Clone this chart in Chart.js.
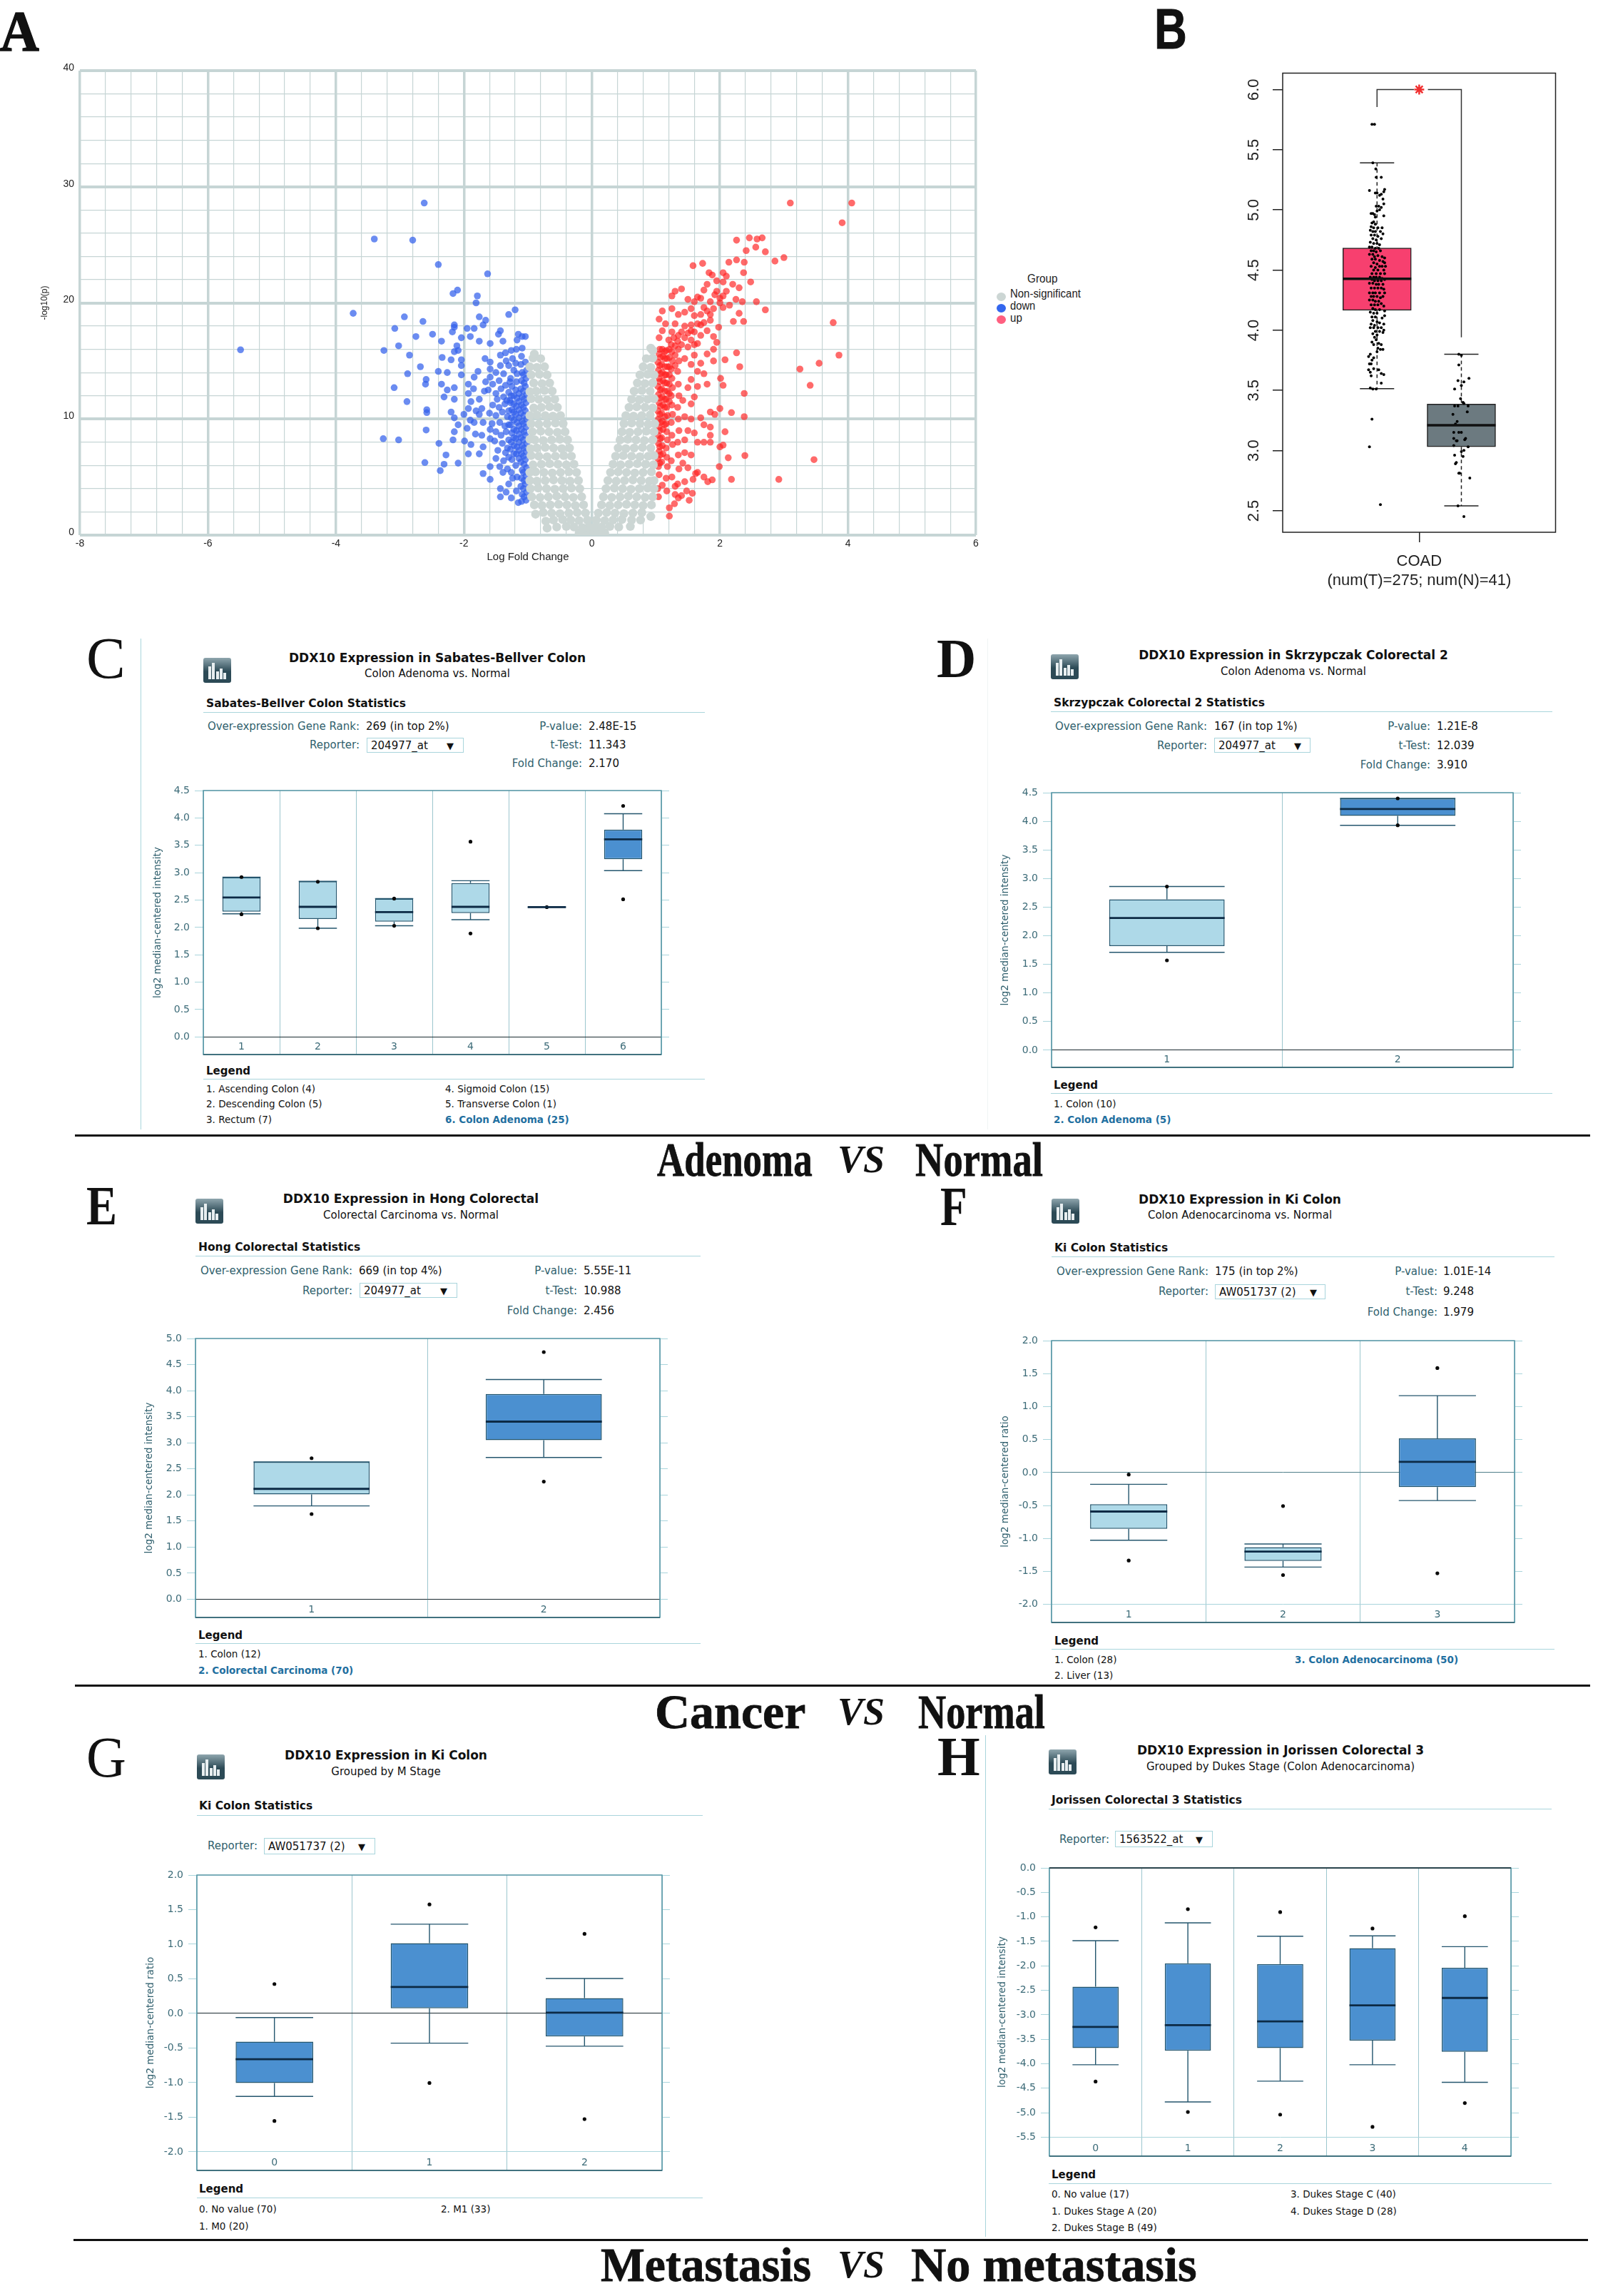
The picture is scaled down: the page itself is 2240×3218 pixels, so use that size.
<!DOCTYPE html>
<html>
<head>
<meta charset="utf-8">
<title>DDX10 expression</title>
<script src="https://cdn.jsdelivr.net/npm/chart.js@4/dist/chart.umd.js"></script>
<style>
  html, body { margin: 0; background: #fff; }
  #page { position: relative; width: 2240px; height: 3218px; overflow: hidden; background: #fff; }
  #page canvas { position: absolute; }
  .t { position: absolute; white-space: nowrap; font-family: "DejaVu Sans", sans-serif; line-height: 1; }
  .r { position: absolute; }
</style>
</head>
<body>
<div id="page"></div>
<script>
// === A: volcano as [log fold change, -log10(p)] ===
const greyPoints = [
  [-.03,.2],[-.1,.25],[-.2,.2],[-.05,.7],[-.15,.65],[-.28,.7],[-.4,.75],[-.55,.7],[-.7,.6],[-.07,1.3],[-.2,1.25],[-.33,1.3],[-.46,1.35],[-.6,1.3],[-.72,1.2],
  [-.1,1.9],[-.23,1.95],[-.36,1.9],[-.5,1.85],[-.63,1.9],[-.76,1.95],[-.88,1.8],[-.13,2.6],[-.26,2.55],[-.39,2.6],[-.52,2.65],[-.65,2.6],[-.78,2.55],[-.9,2.6],
  [-.16,3.3],[-.29,3.25],[-.42,3.3],[-.55,3.35],[-.68,3.3],[-.81,3.25],[-.94,3.3],[-.19,4],[-.32,4.05],[-.45,4],[-.58,3.95],[-.71,4],[-.84,4.05],[-.96,4],
  [-.21,4.7],[-.34,4.65],[-.47,4.7],[-.6,4.75],[-.73,4.7],[-.86,4.65],[-.97,4.7],[-.24,5.4],[-.36,5.45],[-.49,5.4],[-.62,5.35],[-.75,5.4],[-.88,5.45],[-.97,5.4],
  [-.28,6.1],[-.4,6.05],[-.53,6.1],[-.66,6.15],[-.79,6.1],[-.92,6.05],[-.32,6.8],[-.44,6.85],[-.57,6.8],[-.7,6.75],[-.83,6.8],[-.95,6.85],
  [-.35,7.5],[-.47,7.45],[-.6,7.5],[-.73,7.55],[-.86,7.5],[-.96,7.45],[-.38,8.2],[-.5,8.25],[-.63,8.2],[-.76,8.15],[-.89,8.2],[-.97,8.25],
  [-.42,8.9],[-.54,8.85],[-.67,8.9],[-.8,8.95],[-.93,8.9],[-.45,9.6],[-.57,9.65],[-.7,9.6],[-.83,9.55],[-.95,9.6],[-.49,10.3],[-.61,10.25],[-.73,10.3],[-.86,10.35],[-.97,10.3],
  [-.54,11],[-.66,11.05],[-.79,11],[-.91,10.95],[-.58,11.7],[-.7,11.65],[-.83,11.7],[-.95,11.75],[-.62,12.4],[-.74,12.45],[-.87,12.4],[-.97,12.35],
  [-.66,13.1],[-.78,13.05],[-.91,13.1],[-.7,13.8],[-.82,13.85],[-.95,13.8],[-.74,14.5],[-.86,14.45],[-.97,14.5],[-.8,15.2],[-.92,15.25],[-.9,15.6],
  [.03,.2],[.1,.25],[.2,.2],[.05,.7],[.15,.7],[.28,.75],[.42,.7],[.6,.75],[.07,1.3],[.2,1.25],[.33,1.3],[.47,1.35],[.62,1.3],[.76,1.3],[.1,1.9],[.23,1.95],[.36,1.9],[.5,1.85],[.64,1.9],[.78,1.95],[.92,1.6],
  [.15,2.6],[.28,2.55],[.41,2.6],[.54,2.65],[.67,2.6],[.8,2.55],[.93,2.6],[.18,3.3],[.31,3.25],[.44,3.3],[.57,3.35],[.7,3.3],[.83,3.25],[.95,3.3],
  [.22,4],[.35,4.05],[.48,4],[.61,3.95],[.74,4],[.87,4.05],[.97,4],[.25,4.7],[.38,4.65],[.51,4.7],[.64,4.75],[.77,4.7],[.9,4.65],[.97,4.7],
  [.29,5.4],[.41,5.45],[.54,5.4],[.67,5.35],[.8,5.4],[.93,5.45],[.33,6.1],[.45,6.05],[.58,6.1],[.71,6.15],[.84,6.1],[.96,6.05],
  [.37,6.8],[.49,6.85],[.62,6.8],[.75,6.75],[.88,6.8],[.97,6.85],[.41,7.5],[.53,7.45],[.66,7.5],[.79,7.55],[.92,7.5],[.44,8.2],[.56,8.25],[.69,8.2],[.82,8.15],[.95,8.2],
  [.47,8.9],[.59,8.85],[.72,8.9],[.85,8.95],[.97,8.9],[.5,9.6],[.62,9.65],[.75,9.6],[.88,9.55],[.98,9.6],[.53,10.3],[.65,10.25],[.78,10.3],[.91,10.35],
  [.58,11],[.7,11.05],[.83,11],[.95,10.95],[.62,11.7],[.74,11.65],[.87,11.7],[.97,11.75],[.66,12.4],[.78,12.45],[.91,12.4],[.71,13.1],[.83,13.05],[.95,13.1],
  [.75,13.8],[.87,13.85],[.97,13.8],[.8,14.5],[.92,14.45],[.85,15.2],[.95,15.25],[.95,15.9],[.92,16.1]
];
const downPoints = [
  [-5.49,15.96],[-2.62,28.6],[-3.4,25.5],[-2.8,25.4],[-2.4,23.3],[-1.63,22.5],[-2.17,20.8],[-2.1,21.1],[-1.79,20.6],[-1.81,20],[-3.73,19.1],[-2.93,18.8],[-2.64,18.4],[-3.08,17.8],[-2.75,17.1],[-2.49,17.3],
  [-3.02,16.3],[-3.25,15.9],[-2.85,15.5],[-2.68,14.5],[-2.88,13.9],[-2.59,13.4],[-2.6,13],[-3.09,12.7],[-2.89,11.5],[-2.58,10.8],[-2.58,10.55],[-2.59,9.05],[-3.26,8.3],[-3.02,8.2],[-2.61,6.25],[-2.39,7.9],[-2.37,5.55],
  [-1.2,19.4],[-1.3,19],[-1.15,17.3],[-1.09,17.1],[-1.04,17.1],[-1.17,16.8],[-1.43,17.6],[-1.46,17.3],[-1.39,16.7],[-1.59,16.5],[-1.76,16.7],[-1.7,18.1],[-1.66,18.5],[-1.76,18.8],[-1.84,17.8],[-1.9,17.1],[-2.04,17],[-1.95,17.8],
  [-2.18,17.5],[-2.15,17.9],[-2.15,18.1],[-2.35,16.7],[-2.11,16.3],[-2.09,15.9],[-2.15,15.8],[-2.34,15.3],[-2.2,15.1],[-2.04,15.1],[-2.04,14.6],[-2.4,14.1],[-2.26,14],[-2.04,13.8],[-1.84,13.6],[-1.67,15.2],[-1.59,14.9],[-1.59,14.3],[-1.59,13.6],
  [-1.43,14.6],[-1.35,15.7],[-1.26,15.9],[-1.43,15.5],[-1.93,13],[-2.15,12.7],[-2.35,13],[-2.26,12.5],[-2.31,11.9],[-2.15,11.7],[-1.93,12.2],[-1.89,11.5],[-1.76,11.7],[-1.93,10.9],[-1.81,10.7],[-1.76,10.4],[-2.2,10.6],[-2.15,10.1],[-2.09,9.5],
  [-2.15,8.9],[-2.17,8.2],[-1.99,8.1],[-1.84,9.7],[-1.7,9.7],[-1.59,9.1],[-1.59,8.3],[-1.89,7.8],[-1.7,7.6],[-1.93,7],[-1.76,7],[-2.09,6.2],[-2.28,6.9],[-2.31,6.1],[-1.59,5.9],[-1.7,5.3],[-1.59,4.8],[-1.43,4],[-1.43,3.3],[-1.26,3.2],[-1.39,5.4],[-1.24,4.9],[-1.15,2.8],
  [-1.66,13.2],[-1.55,13],[-1.45,13.3],[-1.38,13.9],[-1.62,12.5],[-1.5,12.2],[-1.42,12.6],[-1.35,12.9],[-1.48,11.7],[-1.38,11.9],[-1.3,12.3],[-1.55,11.2],[-1.45,11],[-1.36,11.3],[-1.28,11.6],[-1.6,10.5],[-1.5,10.3],[-1.4,10.6],[-1.32,10.2],
  [-1.56,9.6],[-1.44,9.7],[-1.36,9.4],[-1.5,8.9],[-1.42,8.6],[-1.34,8.9],[-1.52,8.1],[-1.4,7.9],[-1.3,8.2],[-1.47,7.3],[-1.35,7.1],[-1.5,6.6],[-1.38,6.4],[-1.3,6.7],[-1.44,5.9],[-1.32,5.7],[-1.3,4.4],[-1.34,3.7],[-1.22,14.2],[-1.3,14.6],[-1.24,15.2],[-1.34,15],
  [-1.5,14],[-1.78,14.1],[-1.85,12.6],[-1.68,12.4],[-1.72,10.9],[-1.9,9.9],[-1.95,9.2],[-1.82,8.7],[-1.72,8.6],[-2,10.4],
  [-1.03,3],[-1.02,3.7],[-1.04,4.4],[-1.03,5.1],[-1.02,5.8],[-1.04,6.5],[-1.03,7.2],[-1.02,7.9],[-1.04,8.6],[-1.03,9.3],[-1.02,10],[-1.04,10.7],[-1.03,11.4],[-1.02,12.1],[-1.04,12.8],[-1.03,13.5],[-1.02,14.2],[-1.04,14.9],
  [-1.1,2.9],[-1.09,3.5],[-1.11,4.2],[-1.1,4.9],[-1.09,5.6],[-1.11,6.3],[-1.1,7],[-1.09,7.7],[-1.11,8.4],[-1.1,9.1],[-1.09,9.8],[-1.11,10.5],[-1.1,11.2],[-1.09,11.9],[-1.11,12.6],[-1.1,13.3],[-1.09,14],[-1.11,14.7],[-1.1,15.4],[-1.09,16.1],
  [-1.18,3.8],[-1.17,5],[-1.19,6],[-1.18,7],[-1.17,7.6],[-1.19,8.3],[-1.18,9],[-1.17,9.7],[-1.19,10.4],[-1.18,11.1],[-1.17,11.8],[-1.19,12.5],[-1.18,13.2],[-1.17,13.9],[-1.19,14.8],[-1.18,16],
  [-1.26,5.4],[-1.25,6.5],[-1.27,7.4],[-1.26,8],[-1.25,8.8],[-1.27,9.5],[-1.26,10.1],[-1.25,10.8],[-1.27,11.4],[-1.26,12],[-1.25,12.8],[-1.27,13.5],
  [-1.06,3.3],[-1.07,4],[-1.06,4.7],[-1.07,5.4],[-1.06,6.1],[-1.07,6.8],[-1.06,7.5],[-1.07,8.2],[-1.06,8.9],[-1.07,9.6],[-1.06,10.3],[-1.07,11],[-1.06,11.7],[-1.07,12.4],[-1.06,13.1],[-1.07,13.8],
  [-1.14,6.6],[-1.14,7.3],[-1.14,8],[-1.14,8.7],[-1.14,9.4],[-1.14,10.1],[-1.14,10.8],[-1.14,11.5],[-1.14,12.2],[-1.22,7],[-1.22,7.7],[-1.22,8.4],[-1.22,9.1],[-1.22,9.9],[-1.22,10.6],[-1.22,11.3],[-1.22,12],[-1.3,9.5],[-1.3,10.7],[-1.33,11.6],[-1.28,13.2],[-1.32,7.5]
];
const upPoints = [
  [3.1,28.6],[4.06,28.6],[3.91,26.9],[3.77,18.3],[3.86,15.5],[3.55,14.8],[3.25,14.3],[3.41,12.9],[3.47,6.5],[2.92,4.8],[2.71,19.4],[2.57,20.1],[2.37,18.4],[2.21,18.4],[2.48,21.8],[2.37,22.6],[2.86,23.6],[3,23.9],[2.71,24.4],[2.56,24.8],[2.41,24.5],
  [2.66,25.6],[2.58,25.5],[2.46,25.6],[2.26,25.4],[2.26,23.7],[2.14,23.5],[2.38,23.5],[1.58,23.2],[1.73,23.4],[1.83,22.6],[1.88,22.4],[2.26,15.7],[2.08,15.1],[2.31,14.5],[2.01,13.5],[2.05,12.9],[2.38,12.2],[2,10.9],[2.18,10.55],[2.38,10.2],
  [2.08,8.9],[2,7.6],[2.05,7.75],[2.39,6.85],[2.13,6.66],[1.99,5.9],[2.18,4.8],[1.88,4.76],[1.81,4.6],[1.21,1.64],[1.21,2.35],[1.29,2.7],
  [1.04,3.3],[1.03,4],[1.05,5.2],[1.04,5.9],[1.03,6.6],[1.05,7.2],[1.04,7.9],[1.03,8.6],[1.05,9.3],[1.04,10],[1.03,10.7],[1.05,11.4],[1.04,12.1],[1.03,12.8],[1.05,13.5],[1.04,14.2],[1.03,14.9],[1.05,15.6],
  [1.1,4.3],[1.09,6.3],[1.11,7],[1.1,7.7],[1.09,8.4],[1.11,9.1],[1.1,9.8],[1.09,10.5],[1.11,11.2],[1.1,11.9],[1.09,12.6],[1.11,13.3],[1.1,14],[1.09,14.7],[1.11,15.4],[1.1,16],
  [1.17,3.8],[1.16,4.9],[1.18,5.9],[1.17,6.7],[1.16,7.5],[1.18,8.2],[1.17,8.9],[1.16,9.6],[1.18,10.3],[1.17,11],[1.16,11.7],[1.18,12.4],[1.17,13.1],[1.16,13.8],[1.18,14.5],[1.17,15.2],[1.16,15.9],
  [1.25,5],[1.24,6.4],[1.26,7.8],[1.25,8.6],[1.24,9.7],[1.26,10.4],[1.25,11.2],[1.24,12],[1.26,12.7],[1.25,13.5],[1.24,14.3],[1.26,15],[1.25,15.8],[1.24,16.4],
  [1.35,3.2],[1.34,4.4],[1.36,5.7],[1.35,6.9],[1.34,8],[1.36,9],[1.35,10],[1.34,11],[1.36,12],[1.35,13],[1.34,14.1],[1.36,15],[1.35,16],[1.34,16.7],
  [1.05,17],[1.1,17.6],[1.15,18.2],[1.05,18.6],[1.1,19.3],[1.2,16.8],[1.25,17.5],[1.3,18.2],[1.35,17.2],[1.4,16.4],[1.45,17],[1.45,18],[1.5,16.2],[1.5,17.4],[1.55,16.8],[1.55,18.1],[1.6,17.5],[1.6,18.9],[1.65,16.5],[1.65,18.2],[1.7,17.2],[1.7,19],
  [1.75,18.3],[1.75,19.6],[1.8,17.6],[1.8,19.3],[1.85,20.1],[1.85,18.5],[1.9,17.1],[1.9,19.5],[1.55,19.5],[1.6,20.1],[1.65,20.5],[1.5,20.3],[1.45,19.2],[1.35,19],[1.25,19.5],[1.4,21.2],[1.25,20.6],[1.3,21],[1.7,20.4],[1.75,21.1],[1.8,21.6],
  [1.95,21],[2,20.4],[2.05,20.6],[2.1,21],[2.05,21.8],[1.95,21.9],[2.05,19.6],[1.98,17.9],[1.95,16.6],[1.9,16],[2.15,19.8],[2.25,20.3],[2.35,20.1],[2.3,19.1],[2.1,22.3],[2.05,22.6],[2,20],[1.92,20.7],[2.2,21.6],[2.3,21.3],
  [1.45,15.2],[1.55,14.7],[1.6,15.5],[1.7,14.8],[1.8,15.6],[1.9,15],[1.75,13.9],[1.65,14.1],[1.55,13.4],[1.5,12.7],[1.65,12.8],[1.8,13],[1.42,11.6],[1.55,11.3],[1.6,11.9],[1.45,10.2],[1.55,10],[1.7,10.1],[1.85,10.6],[1.92,10.4],[1.75,9.5],[1.85,9.3],
  [1.5,9],[1.6,8.8],[1.85,8.6],[1.45,8.2],[1.65,8],[1.75,8],[1.85,8],[1.45,7.1],[1.55,6.9],[1.42,6.2],[1.5,5.8],[1.62,5.3],[1.58,4.8],[1.45,4.6],[1.65,5.4],[1.4,3.4],[1.48,3.8],[1.57,3.6],[1.52,3],[1.3,3.5],[1.3,4.2],[1.75,5],
  [1.06,6.2],[1.07,6.9],[1.06,7.6],[1.07,8.3],[1.06,9],[1.07,9.7],[1.06,10.4],[1.07,11.1],[1.06,11.8],[1.07,12.5],[1.06,13.2],[1.07,13.9],[1.06,14.6],[1.07,15.3],[1.06,16],
  [1.14,9.5],[1.14,10.2],[1.14,11],[1.14,11.7],[1.14,12.4],[1.14,13.1],[1.14,13.8],[1.14,14.5],[1.14,15.2],[1.14,15.8],[1.21,11.5],[1.21,12.2],[1.21,13],[1.21,13.8],[1.21,14.5],[1.21,15.3],[1.21,16],[1.3,14.6],[1.3,15.5],[1.3,16.3],[1.28,17],[1.4,17.5],[1.55,17.6],[1.6,16.4],[1.7,18.1],[1.85,19]
];

// === B: GEPIA style box plot ===
const bTicks = [2.5, 3, 3.5, 4, 4.5, 5, 5.5, 6];
const bCats = [1, 2];
const bQ1 = [4.165, 3.03];
const bMedian = [4.427, 3.21];
const bQ3 = [4.683, 3.385];
const bLow = [3.514, 2.54];
const bHigh = [5.39, 3.8];
const bracketLeftX = [1, 1, 1.437];
const bracketLeftY = [5.855, 6, 6];
const bracketRightX = [1.603, 2, 2];
const bracketRightY = [6, 6, 3.94];
const tumorPoints = [
  [.94,5.71],[.97,5.71],[.95,5.39],[.985,5.34],[.99,5.27],[1.05,5.27],[.91,5.16],[.98,5.14],[1,5.14],[1.05,5.13],[1.09,5.17],[1.08,5.15],[1.03,5.12],[1.07,5.09],[1.08,5.05],[.99,5.03],[1.02,5.03],[1.05,5.02],[1.03,5],[1,4.99],
  [.93,4.97],[.95,4.97],[.97,4.96],[1.08,4.95],[.98,4.94],[.96,4.9],[.94,4.89],[.98,4.88],[.93,4.86],[.96,4.85],[1.01,4.85],[1.06,4.85],[.92,4.83],[.95,4.82],[.98,4.82],[1.04,4.82],[1.07,4.8],[.93,4.79],[.97,4.79],[1.01,4.78],
  [.95,4.76],[.99,4.75],[1.05,4.76],[.92,4.73],[.96,4.72],[1,4.72],[1.03,4.71],[.91,4.69],[.94,4.69],[.98,4.68],[1.02,4.68],[.93,4.66],[.96,4.66],[.99,4.65],[1.04,4.66],[.91,4.63],[.95,4.63],[.97,4.61],[1.01,4.62],[1.06,4.61],
  [1.09,4.6],[.94,4.59],[.98,4.59],[1.03,4.58],[1.07,4.57],[.96,4.56],[1,4.55],[1.09,4.56],[.93,4.53],[.98,4.52],[1.03,4.53],[1.06,4.53],[1.1,4.53],[.96,4.5],[1.01,4.5],[1.08,4.5],[.94,4.47],[.99,4.47],[1.04,4.47],[1.09,4.47],
  [.92,4.44],[.96,4.44],[.99,4.44],[1.03,4.44],[1.06,4.43],[.94,4.42],[.97,4.41],[1.01,4.41],[1.05,4.41],[1.09,4.42],[.91,4.39],[.95,4.39],[.99,4.38],[1.02,4.38],[1.07,4.38],[.93,4.35],[.97,4.35],[1.01,4.35],[1.05,4.35],[1.08,4.34],
  [.91,4.31],[.95,4.31],[.98,4.31],[1.03,4.31],[1.09,4.31],[.93,4.28],[.96,4.28],[1,4.28],[1.04,4.27],[1.07,4.28],[.91,4.25],[.95,4.25],[.98,4.24],[1.02,4.24],[.93,4.21],[.97,4.21],[1.01,4.21],[1.05,4.22],[1.08,4.2],[.95,4.18],
  [.98,4.17],[1.03,4.17],[1.09,4.16],[.92,4.15],[.96,4.14],[1,4.14],[.94,4.11],[.98,4.11],[1.09,4.12],[1.06,4.1],[.95,4.08],[1,4.07],[1.03,4.06],[.93,4.05],[.97,4.04],[1.08,4.05],[.92,4.02],[.96,4.02],[1.01,4.02],[1.05,4.02],
  [1.08,4],[.98,3.99],[1.03,3.99],[1.07,3.98],[.95,3.97],[1,3.96],[.97,3.94],[.99,3.92],[.94,3.9],[.96,3.88],[1.02,3.89],[1.05,3.88],[1.01,3.85],[1.04,3.84],[1.07,3.84],[1,3.82],[.92,3.8],[.9,3.78],[.96,3.77],[.94,3.75],
  [.91,3.72],[.93,3.72],[.9,3.67],[.92,3.65],[.96,3.68],[1.02,3.67],[1.05,3.64],[1.08,3.63],[.93,3.62],[1.05,3.56],[.92,3.52],[.95,3.51],[.99,3.51],[.94,3.26],[.91,3.03],[1.04,2.55]
];
const normalPoints = [
  [1.97,3.8],[2,3.79],[1.97,3.71],[2.09,3.6],[1.96,3.58],[2.03,3.57],[2,3.54],[1.92,3.51],[1.99,3.43],[2.02,3.4],[1.92,3.37],[1.96,3.37],[2.03,3.39],[2.08,3.37],[2.07,3.32],[1.9,3.3],[1.95,3.24],[1.93,3.22],
  [1.91,3.15],[1.97,3.15],[2,3.15],[1.91,3.1],[1.94,3.08],[1.95,3.08],[2.05,3.1],[2.04,3.09],[1.91,3.04],[2.08,3.03],[2.03,3],[2,2.99],[1.92,2.96],[2.02,2.95],[1.94,2.9],[1.93,2.89],[1.98,2.81],[1.97,2.81],[2.1,2.77],[1.96,2.54],[2.03,2.45]
];

// === C-H: Oncomine box plots ===
const cCats = ["1", "2", "3", "4", "5", "6"];
const cTicks = [0, .5, 1, 1.5, 2, 2.5, 3, 3.5, 4, 4.5];
const cLow = [2.25, 1.985, 2.03, 2.142, 2.37, 3.037];
const cQ1 = [2.287, 2.155, 2.105, 2.262, 2.37, 3.245];
const cMedian = [2.546, 2.376, 2.281, 2.376, 2.37, 3.61];
const cQ3 = [2.917, 2.842, 2.527, 2.81, 2.37, 3.787];
const cHigh = [2.917, 2.842, 2.527, 2.854, 2.37, 4.077];
const cOutCats = ["1", "1", "2", "2", "3", "3", "4", "4", "5", "6", "6"];
const cOutVals = [2.92, 2.24, 2.835, 1.985, 2.527, 2.03, 3.566, 1.89, 2.37, 4.22, 2.514];

const dCats = ["1", "2"];
const dTicks = [0, .5, 1, 1.5, 2, 2.5, 3, 3.5, 4, 4.5];
const dLow = [1.71, 3.93];
const dQ1 = [1.82, 4.095];
const dMedian = [2.31, 4.216];
const dQ3 = [2.636, 4.4];
const dHigh = [2.86, 4.4];
const dOutCats = ["1", "1", "2", "2"];
const dOutVals = [2.86, 1.57, 4.4, 3.93];

const eCats = ["1", "2"];
const eTicks = [0, .5, 1, 1.5, 2, 2.5, 3, 3.5, 4, 4.5, 5];
const eLow = [1.79, 2.718];
const eQ1 = [2.01, 3.05];
const eMedian = [2.116, 3.406];
const eQ3 = [2.632, 3.935];
const eHigh = [2.632, 4.213];
const eOutCats = ["1", "1", "2", "2"];
const eOutVals = [2.705, 1.634, 4.74, 2.255];

const fCats = ["1", "2", "3"];
const fTicks = [-2, -1.5, -1, -.5, 0, .5, 1, 1.5, 2];
const fLow = [-1.025, -1.433, -.424];
const fQ1 = [-.852, -1.339, -.22];
const fMedian = [-.59, -1.197, .162];
const fQ3 = [-.48, -1.13, .518];
const fHigh = [-.178, -1.082, 1.166];
const fOutCats = ["1", "1", "2", "2", "3", "3"];
const fOutVals = [-.03, -1.333, -.507, -1.553, 1.584, -1.527];

const gCats = ["0", "1", "2"];
const gTicks = [-2, -1.5, -1, -.5, 0, .5, 1, 1.5, 2];
const gLow = [-1.199, -.43, -.473];
const gQ1 = [-1.005, .075, -.333];
const gMedian = [-.661, .382, .011];
const gQ3 = [-.409, 1.016, .22];
const gHigh = [-.059, 1.29, .505];
const gOutCats = ["0", "0", "1", "1", "2", "2"];
const gOutVals = [.425, -1.554, 1.575, -1.005, 1.15, -1.527];

const hCats = ["0", "1", "2", "3", "4"];
const hTicks = [-5.5, -5, -4.5, -4, -3.5, -3, -2.5, -2, -1.5, -1, -.5, 0];
const hLow = [-4.02, -4.78, -4.355, -4.02, -4.378];
const hQ1 = [-3.68, -3.733, -3.68, -3.528, -3.756];
const hMedian = [-3.247, -3.21, -3.134, -2.807, -2.656];
const hQ3 = [-2.428, -1.95, -1.965, -1.639, -2.041];
const hHigh = [-1.487, -1.123, -1.396, -1.388, -1.608];
const hOutCats = ["0", "0", "1", "1", "2", "2", "3", "3", "4", "4"];
const hOutVals = [-1.214, -4.363, -.842, -4.985, -.903, -5.038, -1.237, -5.288, -.986, -4.803];

const page = document.getElementById("page");

function put(str, x, y, o = {}) {
  const d = document.createElement("div");
  d.className = "t";
  d.textContent = str;
  d.style.left = `${x}px`;
  d.style.top = `${y}px`;
  d.style.fontSize = `${o.size || 15}px`;
  d.style.color = o.color || "#111";
  if (o.bold) d.style.fontWeight = "bold";
  if (o.italic) d.style.fontStyle = "italic";
  if (o.font) d.style.fontFamily = o.font;
  if (o.stroke) d.style.webkitTextStroke = `${o.stroke}px ${o.color || "#111"}`;
  const ax = o.align === "r" ? -100 : o.align === "c" ? -50 : 0;
  d.style.transform = `translate(${ax}%, -50%)`;
  page.appendChild(d);
  if (o.w) {
    d.style.transformOrigin = "0 50%";
    d.style.transform = `translateY(-50%) scaleX(${o.w / d.offsetWidth})`;
  }
  return d;
}

function rect(x, y, w, h, color) {
  const d = document.createElement("div");
  d.className = "r";
  d.style.cssText = `left:${x}px;top:${y}px;width:${w}px;height:${h}px;background:${color}`;
  page.appendChild(d);
  return d;
}

function addCanvas(x, y, w, h) {
  const c = document.createElement("canvas");
  c.width = w;
  c.height = h;
  c.style.left = `${x}px`;
  c.style.top = `${y}px`;
  page.appendChild(c);
  return c;
}

const pairs = list => list.map(p => ({ x: p[0], y: p[1] }));
const zip = (xs, ys) => xs.map((x, i) => ({ x, y: ys[i] }));

// keep the plot area where it was measured, labels may hang over
function fixSize(s, w, h) {
  if (w !== null) s.width = w;
  if (h !== null) s.height = h;
  s.paddingTop = 0;
  s.paddingBottom = 0;
  s.paddingLeft = 0;
  s.paddingRight = 0;
}

// whiskers, caps and medians go through the chart's own scales
function boxMarks(cfg) {
  return {
    id: "boxMarks",
    beforeDatasetsDraw(chart) {
      const { ctx, scales: { x, y } } = chart;
      ctx.save();
      ctx.strokeStyle = cfg.whisker;
      ctx.lineWidth = cfg.whiskerWidth;
      cfg.q1.forEach((q, i) => {
        const px = x.getPixelForValue(cfg.pos[i]);
        const half = cfg.capHalf(x);
        ctx.setLineDash(cfg.dash || []);
        ctx.beginPath();
        ctx.moveTo(px, y.getPixelForValue(cfg.high[i]));
        ctx.lineTo(px, y.getPixelForValue(cfg.q3[i]));
        ctx.moveTo(px, y.getPixelForValue(q));
        ctx.lineTo(px, y.getPixelForValue(cfg.low[i]));
        ctx.stroke();
        ctx.setLineDash([]);
        ctx.beginPath();
        [cfg.high[i], cfg.low[i]].forEach(v => {
          ctx.moveTo(px - half, y.getPixelForValue(v));
          ctx.lineTo(px + half, y.getPixelForValue(v));
        });
        ctx.stroke();
      });
      ctx.restore();
    },
    afterDatasetsDraw(chart) {
      const { ctx, scales: { x, y } } = chart;
      ctx.save();
      ctx.strokeStyle = cfg.medianColor;
      ctx.lineWidth = cfg.medianWidth;
      cfg.median.forEach((m, i) => {
        const px = x.getPixelForValue(cfg.pos[i]);
        const half = cfg.boxHalf(x);
        ctx.beginPath();
        ctx.moveTo(px - half, y.getPixelForValue(m));
        ctx.lineTo(px + half, y.getPixelForValue(m));
        ctx.stroke();
      });
      ctx.restore();
    }
  };
}

const frameLine = {
  id: "frameLine",
  beforeDatasetsDraw(chart) {
    const { ctx, chartArea: a } = chart;
    const o = chart.options.plugins.frameLine;
    ctx.save();
    ctx.strokeStyle = o.color;
    ctx.lineWidth = o.width;
    ctx.strokeRect(a.left, a.top, a.right - a.left, a.bottom - a.top);
    if (o.bottomColor) {
      ctx.strokeStyle = o.bottomColor;
      ctx.beginPath();
      ctx.moveTo(a.left, a.bottom);
      ctx.lineTo(a.right, a.bottom);
      ctx.stroke();
    }
    if (o.topColor) {
      ctx.strokeStyle = o.topColor;
      ctx.beginPath();
      ctx.moveTo(a.left, a.top);
      ctx.lineTo(a.right, a.top);
      ctx.stroke();
    }
    ctx.restore();
  }
};

// === PANEL A ===
function drawVolcano() {
  const L = 112, R = 1368, T = 99, B = 750;
  const leftW = 57, rightW = 8, topPad = 10, botH = 40;
  const canvas = addCanvas(L - leftW, T - topPad, leftW + (R - L) + rightW, topPad + (B - T) + botH);
  const isMajor = (v, n) => Math.abs(Math.round(v / n) * n - v) < 1e-6;
  new Chart(canvas, {
    type: "scatter",
    data: {
      datasets: [
        { label: "Non-significant", data: pairs(greyPoints), backgroundColor: "#ccd6d4", pointRadius: 6.2, borderWidth: 0 },
        { label: "down", data: pairs(downPoints), backgroundColor: "rgba(50,95,235,0.72)", pointRadius: 4.8, borderWidth: 0 },
        { label: "up", data: pairs(upPoints), backgroundColor: "rgba(255,35,35,0.68)", pointRadius: 4.8, borderWidth: 0 }
      ]
    },
    options: {
      responsive: false,
      animation: false,
      layout: { padding: { top: topPad, right: rightW } },
      plugins: { legend: { display: false }, tooltip: { enabled: false } },
      scales: {
        x: {
          type: "linear", min: -8, max: 6,
          afterFit: s => fixSize(s, null, botH),
          ticks: {
            stepSize: .4, autoSkip: false, maxRotation: 0, padding: 4, color: "#222",
            font: { family: "Liberation Sans", size: 14 },
            callback: v => (isMajor(v, 2) ? Math.round(v) : "")
          },
          grid: {
            drawTicks: false,
            color: "#c6d5d5",
            lineWidth: c => (isMajor(c.tick.value, 2) ? 3.5 : 1.2)
          },
          border: { display: false },
          title: { display: true, text: "Log Fold Change", color: "#222", padding: 0, font: { family: "Liberation Sans", size: 15 } }
        },
        y: {
          type: "linear", min: 0, max: 40,
          afterFit: s => fixSize(s, leftW, null),
          ticks: {
            stepSize: 2, autoSkip: false, padding: 8, labelOffset: -4, color: "#222",
            font: { family: "Liberation Sans", size: 14 },
            callback: v => (isMajor(v, 10) ? Math.round(v) : "")
          },
          grid: {
            drawTicks: false,
            color: "#c6d5d5",
            lineWidth: c => (isMajor(c.tick.value, 10) ? 4 : 1.2)
          },
          border: { display: false },
          title: { display: true, text: "-log10(p)", color: "#222", padding: 0, font: { family: "Liberation Sans", size: 12 } }
        }
      }
    }
  });
  put("Group", 1440, 391, { font: "Liberation Sans", size: 16, color: "#222", w: 42 });
  [["Non-significant", 412, 99, "#ccd6d4", 416], ["down", 429, 35, "#3366ee", 432], ["up", 446, 17, "#ff5f80", 448]].forEach(([txt, y, w, col, dotY]) => {
    put(txt, 1416, y, { font: "Liberation Sans", size: 16, color: "#222", w });
    const dot = rect(1397, dotY - 6, 13, 12, col);
    dot.style.borderRadius = "50%";
  });
}

// === PANEL B ===
function drawGepia() {
  const L = 1798, R = 2184, T = 99, B = 746;
  const leftW = 60, rightW = 6, topPad = 6, botH = 80;
  const canvas = addCanvas(L - leftW, T - topPad, leftW + (R - L) + rightW, topPad + (B - T) + botH);
  const fills = ["#f7406f", "#6c7a80"];
  new Chart(canvas, {
    type: "bar",
    data: {
      datasets: [
        { type: "bar", data: bCats.map((c, i) => ({ x: c, y: [bQ1[i], bQ3[i]] })), backgroundColor: fills, borderColor: "#222", borderWidth: 1.5, borderSkipped: false, barThickness: 96, order: 3 },
        { type: "scatter", data: pairs(tumorPoints), backgroundColor: "#000", pointRadius: 2, borderWidth: 0, order: 1 },
        { type: "scatter", data: pairs(normalPoints), backgroundColor: "#000", pointRadius: 2, borderWidth: 0, order: 1 },
        { type: "line", data: zip(bracketLeftX, bracketLeftY), borderColor: "#333", borderWidth: 1.5, pointRadius: 0, fill: false, order: 2 },
        { type: "line", data: zip(bracketRightX, bracketRightY), borderColor: "#333", borderWidth: 1.5, pointRadius: 0, fill: false, order: 2 },
        { type: "scatter", data: [{ x: 1.5, y: 6 }], pointStyle: "star", pointRadius: 7, borderColor: "#f03030", borderWidth: 2.5, order: 1 }
      ]
    },
    options: {
      responsive: false,
      animation: false,
      layout: { padding: { top: topPad, right: rightW } },
      plugins: { legend: { display: false }, tooltip: { enabled: false }, frameLine: { color: "#222", width: 1.5 } },
      scales: {
        x: {
          type: "linear", min: -.119, max: 3.117, offset: false,
          afterFit: s => fixSize(s, null, botH),
          afterBuildTicks: s => { s.ticks = [{ value: 1.5 }]; },
          ticks: {
            color: "#222", padding: 14, maxRotation: 0,
            font: { family: "Liberation Sans", size: 22, lineHeight: 1.22 },
            callback: () => ["COAD", "(num(T)=275; num(N)=41)"]
          },
          grid: { offset: false, drawOnChartArea: false, tickLength: 14, color: "#222", lineWidth: 1.5 },
          border: { display: false }
        },
        y: {
          type: "linear", min: 2.32, max: 6.136,
          afterFit: s => fixSize(s, leftW, null),
          afterBuildTicks: s => { s.ticks = bTicks.map(value => ({ value })); },
          ticks: {
            color: "#222", padding: 26, minRotation: 90, maxRotation: 90, labelOffset: -15,
            font: { family: "Liberation Sans", size: 22 },
            callback: v => v.toFixed(1)
          },
          grid: { drawOnChartArea: false, tickLength: 14, color: "#222", lineWidth: 1.5 },
          border: { display: false }
        }
      }
    },
    plugins: [frameLine, boxMarks({
      pos: bCats, low: bLow, q1: bQ1, median: bMedian, q3: bQ3, high: bHigh,
      whisker: "#222", whiskerWidth: 1.5, dash: [5, 4], medianColor: "#111", medianWidth: 3.5,
      capHalf: () => 24, boxHalf: () => 48
    })]
  });
}

// === PANELS C-H ===
const LIGHT = "#aed9e8", DARK = "#4b90d0", TICKC = "#3c6b78", TXT2 = "#2f5f6d", BLUE = "#1f6fa0", LINE = "#a9d5dc";

function drawBoxPanel(p) {
  const leftW = Math.round(p.L - p.titleX + 9), rightW = 16, topPad = 10, botH = 3;
  const canvas = addCanvas(p.L - leftW, p.T - topPad, leftW + (p.R - p.L) + rightW, topPad + (p.B - p.T) + botH);
  const darkSet = p.dark;
  const zero = p.zeroColor || "#1a2a30";
  const grid = c => (c.tick.value === 0 ? zero : c.tick.value === p.ticks[0] ? LINE : "rgba(0,0,0,0)");
  new Chart(canvas, {
    type: "bar",
    data: {
      labels: p.cats,
      datasets: [
        {
          type: "bar",
          data: p.cats.map((c, i) => [p.q1[i], p.q3[i]]),
          backgroundColor: p.cats.map((c, i) => (darkSet.includes(i) ? DARK : LIGHT)),
          borderColor: "#24566e", borderWidth: 1.5, borderSkipped: false,
          barPercentage: .5, categoryPercentage: 1, order: 2
        },
        {
          type: "scatter",
          data: zip(p.outCats, p.outVals),
          backgroundColor: "#0a0a0a", pointRadius: 2.6, borderWidth: 0, order: 1
        }
      ]
    },
    options: {
      responsive: false,
      animation: false,
      layout: { padding: { top: topPad, right: 0 } },
      plugins: {
        legend: { display: false },
        tooltip: { enabled: false },
        frameLine: { color: "#4f93a3", width: 1.5, bottomColor: "#2f5f6d", topColor: p.topColor }
      },
      scales: {
        x: {
          type: "category", offset: true,
          afterFit: s => fixSize(s, null, botH),
          ticks: { color: TICKC, mirror: true, padding: 2, autoSkip: false, maxRotation: 0, font: { family: "DejaVu Sans", size: 14 } },
          grid: { offset: true, drawTicks: false, color: "#9cc6ce", lineWidth: 1 },
          border: { display: false }
        },
        y: {
          type: "linear", min: p.yMin, max: p.yMax,
          afterFit: s => fixSize(s, leftW, null),
          afterBuildTicks: s => { s.ticks = p.ticks.map(value => ({ value })); },
          ticks: { color: TICKC, padding: 7, font: { family: "DejaVu Sans", size: 14 }, callback: v => v.toFixed(1) },
          grid: { color: grid, tickColor: LINE, tickLength: 12, lineWidth: 1 },
          border: { display: false },
          title: { display: true, text: p.yTitle, color: TXT2, padding: 0, font: { family: "DejaVu Sans", size: 13.5 } }
        },
        y2: {
          type: "linear", position: "right", min: p.yMin, max: p.yMax,
          afterFit: s => fixSize(s, rightW, null),
          afterBuildTicks: s => { s.ticks = p.ticks.map(value => ({ value })); },
          ticks: { display: false },
          grid: { drawOnChartArea: false, color: LINE, tickLength: 11 },
          border: { display: false }
        }
      }
    },
    plugins: [frameLine, boxMarks({
      pos: p.cats.map((c, i) => i), low: p.low, q1: p.q1, median: p.median, q3: p.q3, high: p.high,
      whisker: "#24566e", whiskerWidth: 1.4, medianColor: "#0c2a45", medianWidth: 2.8,
      capHalf: x => (x.getPixelForValue(1) - x.getPixelForValue(0)) / 4,
      boxHalf: x => (x.getPixelForValue(1) - x.getPixelForValue(0)) / 4
    })]
  });
}

function drawIcon(x, y, w, h) {
  const d = rect(x, y, w, h, "");
  d.style.background = "linear-gradient(#8fa6ae, #2c4a56 55%, #2c4a56)";
  d.style.borderRadius = "3px";
  [[.18, .35, .5], [.32, .2, .65], [.46, .55, .3], [.58, .42, .43], [.72, .6, .25]].forEach(([fx, fy, fh]) => {
    const b = rect(x + w * fx, y + h * fy, 4, h * fh, "#e8eef0");
    b.style.zIndex = 2;
  });
}

function drawText(p) {
  drawIcon(p.icon[0], p.icon[1], 39, 35);
  put(p.title, p.titleC, p.titleY, { bold: true, size: 17, align: "c" });
  put(p.sub, p.titleC, p.subY, { size: 15, align: "c" });
  put(p.header, p.headX, p.headY, { bold: true, size: 15.5 });
  rect(p.icon[0], p.ruleY, p.ruleW, 1, LINE);
  p.stats.forEach(s => {
    put(s[0], s[1], s[3], { align: "r", color: TXT2 });
    if (s[4]) put(s[4], s[2], s[3]);
  });
  const b = p.box;
  const sel = rect(b[0], b[1], b[2] - b[0], b[3] - b[1], "#fff");
  sel.style.border = `1px solid ${LINE}`;
  sel.style.boxSizing = "border-box";
  put(p.reporter, b[0] + 6, (b[1] + b[3]) / 2);
  put("▼", p.arrowX, (b[1] + b[3]) / 2, { size: 13, align: "c" });
  put("Legend", p.headX, p.legY, { bold: true, size: 15 });
  rect(p.icon[0], p.legRule, p.ruleW, 1, LINE);
  p.legend.forEach(l => put(l[0], l[1], l[2], { size: 13.5, color: l[3] ? BLUE : "#111", bold: !!l[3] }));
}

drawVolcano();
drawGepia();

const panels = [
  {
    cats: cCats, ticks: cTicks, low: cLow, q1: cQ1, median: cMedian, q3: cQ3, high: cHigh, outCats: cOutCats, outVals: cOutVals, dark: [5],
    L: 285, R: 927, T: 1108, B: 1479, yMin: -.321, yMax: 4.5, titleX: 222, yTitle: "log2 median-centered intensity",
    icon: [285, 922], title: "DDX10 Expression in Sabates-Bellver Colon", sub: "Colon Adenoma vs. Normal", titleC: 613, titleY: 922, subY: 944,
    header: "Sabates-Bellver Colon Statistics", headX: 289, headY: 987, ruleY: 998, ruleW: 703,
    stats: [["Over-expression Gene Rank:", 504, 513, 1018, "269 (in top 2%)"], ["P-value:", 816, 825, 1018, "2.48E-15"], ["Reporter:", 504, 0, 1044, ""], ["t-Test:", 816, 825, 1044, "11.343"], ["Fold Change:", 816, 825, 1070, "2.170"]],
    box: [514, 1034, 650, 1055], reporter: "204977_at", arrowX: 631,
    legY: 1501, legRule: 1512,
    legend: [["1. Ascending Colon (4)", 289, 1527], ["2. Descending Colon (5)", 289, 1548], ["3. Rectum (7)", 289, 1570], ["4. Sigmoid Colon (15)", 624, 1527], ["5. Transverse Colon (1)", 624, 1548], ["6. Colon Adenoma (25)", 624, 1570, 1]]
  },
  {
    cats: dCats, ticks: dTicks, low: dLow, q1: dQ1, median: dMedian, q3: dQ3, high: dHigh, outCats: dOutCats, outVals: dOutVals, dark: [1],
    L: 1474, R: 2121, T: 1111, B: 1497, yMin: -.3, yMax: 4.5, titleX: 1410, yTitle: "log2 median-centered intensity",
    icon: [1473, 917], title: "DDX10 Expression in Skrzypczak Colorectal 2", sub: "Colon Adenoma vs. Normal", titleC: 1813, titleY: 918, subY: 941,
    header: "Skrzypczak Colorectal 2 Statistics", headX: 1477, headY: 986, ruleY: 997, ruleW: 703,
    stats: [["Over-expression Gene Rank:", 1692, 1702, 1018, "167 (in top 1%)"], ["P-value:", 2005, 2014, 1018, "1.21E-8"], ["Reporter:", 1692, 0, 1045, ""], ["t-Test:", 2005, 2014, 1045, "12.039"], ["Fold Change:", 2005, 2014, 1072, "3.910"]],
    box: [1702, 1034, 1837, 1055], reporter: "204977_at", arrowX: 1819,
    legY: 1521, legRule: 1532,
    legend: [["1. Colon (10)", 1477, 1548], ["2. Colon Adenoma (5)", 1477, 1570, 1]]
  },
  {
    cats: eCats, ticks: eTicks, low: eLow, q1: eQ1, median: eMedian, q3: eQ3, high: eHigh, outCats: eOutCats, outVals: eOutVals, dark: [1],
    L: 274, R: 925, T: 1876, B: 2268, yMin: -.35, yMax: 5, titleX: 210, yTitle: "log2 median-centered intensity",
    icon: [274, 1680], title: "DDX10 Expression in Hong Colorectal", sub: "Colorectal Carcinoma vs. Normal", titleC: 576, titleY: 1680, subY: 1703,
    header: "Hong Colorectal Statistics", headX: 278, headY: 1749, ruleY: 1760, ruleW: 708,
    stats: [["Over-expression Gene Rank:", 494, 503, 1781, "669 (in top 4%)"], ["P-value:", 809, 818, 1781, "5.55E-11"], ["Reporter:", 494, 0, 1809, ""], ["t-Test:", 809, 818, 1809, "10.988"], ["Fold Change:", 809, 818, 1837, "2.456"]],
    box: [504, 1798, 641, 1819], reporter: "204977_at", arrowX: 622,
    legY: 2292, legRule: 2303,
    legend: [["1. Colon (12)", 278, 2319], ["2. Colorectal Carcinoma (70)", 278, 2342, 1]]
  },
  {
    cats: fCats, ticks: fTicks, low: fLow, q1: fQ1, median: fMedian, q3: fQ3, high: fHigh, outCats: fOutCats, outVals: fOutVals, dark: [2], zeroColor: "#4f7f8a",
    L: 1474, R: 2123, T: 1879, B: 2275, yMin: -2.272, yMax: 2, titleX: 1410, yTitle: "log2 median-centered ratio",
    icon: [1474, 1680], title: "DDX10 Expression in Ki Colon", sub: "Colon Adenocarcinoma vs. Normal", titleC: 1738, titleY: 1681, subY: 1703,
    header: "Ki Colon Statistics", headX: 1478, headY: 1750, ruleY: 1761, ruleW: 705,
    stats: [["Over-expression Gene Rank:", 1694, 1703, 1782, "175 (in top 2%)"], ["P-value:", 2015, 2023, 1782, "1.01E-14"], ["Reporter:", 1694, 0, 1810, ""], ["t-Test:", 2015, 2023, 1810, "9.248"], ["Fold Change:", 2015, 2023, 1839, "1.979"]],
    box: [1703, 1800, 1858, 1821], reporter: "AW051737 (2)", arrowX: 1841,
    legY: 2300, legRule: 2311,
    legend: [["1. Colon (28)", 1478, 2327], ["2. Liver (13)", 1478, 2349], ["3. Colon Adenocarcinoma (50)", 1815, 2327, 1]]
  },
  {
    cats: gCats, ticks: gTicks, low: gLow, q1: gQ1, median: gMedian, q3: gQ3, high: gHigh, outCats: gOutCats, outVals: gOutVals, dark: [0, 1, 2],
    L: 276, R: 928, T: 2628, B: 3043, yMin: -2.269, yMax: 2, titleX: 212, yTitle: "log2 median-centered ratio",
    icon: [276, 2459], title: "DDX10 Expression in Ki Colon", sub: "Grouped by M Stage", titleC: 541, titleY: 2460, subY: 2483,
    header: "Ki Colon Statistics", headX: 279, headY: 2532, ruleY: 2544, ruleW: 709,
    stats: [["Reporter:", 361, 0, 2587, ""]],
    box: [370, 2576, 526, 2599], reporter: "AW051737 (2)", arrowX: 507,
    legY: 3068, legRule: 3080,
    legend: [["0. No value (70)", 279, 3097], ["1. M0 (20)", 279, 3121], ["2. M1 (33)", 618, 3097]]
  },
  {
    cats: hCats, ticks: hTicks, low: hLow, q1: hQ1, median: hMedian, q3: hQ3, high: hHigh, outCats: hOutCats, outVals: hOutVals, dark: [0, 1, 2, 3, 4], topColor: "#1a2a30",
    L: 1471, R: 2118, T: 2618, B: 3023, yMin: -5.887, yMax: 0, titleX: 1406, yTitle: "log2 median-centered intensity",
    icon: [1470, 2452], title: "DDX10 Expression in Jorissen Colorectal 3", sub: "Grouped by Dukes Stage (Colon Adenocarcinoma)", titleC: 1795, titleY: 2453, subY: 2476,
    header: "Jorissen Colorectal 3 Statistics", headX: 1474, headY: 2524, ruleY: 2535, ruleW: 705,
    stats: [["Reporter:", 1555, 0, 2578, ""]],
    box: [1563, 2566, 1700, 2589], reporter: "1563522_at", arrowX: 1681,
    legY: 3048, legRule: 3060,
    legend: [["0. No value (17)", 1474, 3076], ["1. Dukes Stage A (20)", 1474, 3100], ["2. Dukes Stage B (49)", 1474, 3123], ["3. Dukes Stage C (40)", 1809, 3076], ["4. Dukes Stage D (28)", 1809, 3100]]
  }
];

panels.forEach(p => {
  drawBoxPanel(p);
  drawText(p);
});

// === PANEL LETTERS, RULES, HEADINGS ===
const SERIF = "Liberation Serif";
put("A", 0, 44, { font: SERIF, bold: true, size: 80, stroke: 1.5, w: 55 });
put("B", 1618, 41, { font: "Liberation Sans", bold: true, size: 80, stroke: 1, w: 46 });
put("C", 121, 923, { font: SERIF, size: 82, w: 55 });
put("D", 1313, 923, { font: SERIF, bold: true, size: 78, w: 55 });
put("E", 121, 1690, { font: SERIF, bold: true, size: 78, w: 43 });
put("F", 1318, 1691, { font: SERIF, bold: true, size: 78, w: 38 });
put("G", 121, 2463, { font: SERIF, size: 80, w: 56 });
put("H", 1314, 2462, { font: SERIF, bold: true, size: 78, w: 60 });

rect(197, 895, 1, 688, LINE);
rect(1384, 895, 1, 688, "#f0f4f4");
rect(1381, 2432, 1, 703, LINE);
rect(105, 1590, 2124, 3, "#111");
rect(105, 2361, 2124, 3, "#111");
rect(103, 3138, 2123, 3, "#111");

const headOpts = { font: SERIF, bold: true, size: 68, stroke: .8 };
[
  [1625, [["Adenoma", 921, 218], ["Normal", 1283, 179]]],
  [2399, [["Cancer", 918, 211], ["Normal", 1287, 178]]],
  [3174, [["Metastasis", 842, 295], ["No metastasis", 1277, 401]]]
].forEach(([y, parts]) => {
  parts.forEach(([txt, x, w]) => put(txt, x, y, { ...headOpts, w }));
  put("VS", 1174, y, { font: SERIF, bold: true, italic: true, size: 54, w: 66 });
});
</script>
</body>
</html>
